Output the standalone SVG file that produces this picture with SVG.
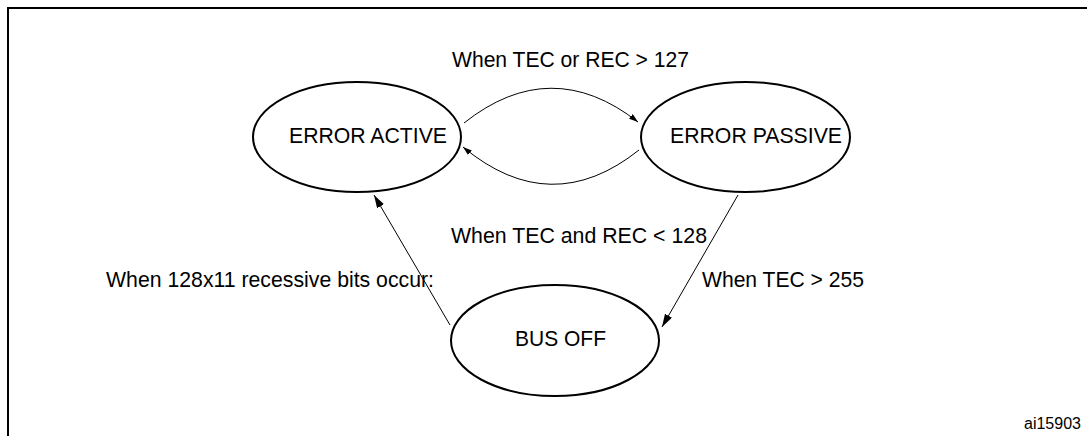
<svg xmlns="http://www.w3.org/2000/svg" width="1087" height="436" viewBox="0 0 1087 436">
  <style>
    .node { fill: #ffffff; stroke: #000000; stroke-width: 2; }
    .label { font-family: "Liberation Sans", Arial, sans-serif; font-size: 22.5px; fill: #000000; }
    .small { font-family: "Liberation Sans", Arial, sans-serif; font-size: 16px; fill: #000000; }
    .conn { fill: none; stroke: #000000; stroke-width: 1; }
    .frame { fill: none; stroke: #000000; stroke-width: 2; }
  </style>
  <defs>
    <marker id="arrowBig" markerUnits="userSpaceOnUse" markerWidth="14" markerHeight="10" refX="13" refY="4" orient="auto">
      <path d="M0,0 L13,4 L0,8 z" fill="#000000"/>
    </marker>
    <marker id="arrowSmall" markerUnits="userSpaceOnUse" markerWidth="10" markerHeight="8" refX="9" refY="3" orient="auto">
      <path d="M0,0 L9,3 L0,6 z" fill="#000000"/>
    </marker>
  </defs>
  <rect width="1087" height="436" fill="#ffffff"/>
  <path class="frame" d="M8,436 V8 H1087"/>

  <g id="connectors">
    <path class="conn" d="M464,123 Q551,54 638,122" marker-end="url(#arrowSmall)"/>
    <path class="conn" d="M639,150 Q551,220 463,147" marker-end="url(#arrowSmall)"/>
    <path class="conn" d="M450,325 L374,195" marker-end="url(#arrowBig)"/>
    <path class="conn" d="M738,195 L662,327" marker-end="url(#arrowBig)"/>
  </g>

  <g id="node-error-active">
    <ellipse class="node" cx="357" cy="137" rx="104" ry="55"/>
    <text class="label" x="289" y="143" textLength="158" lengthAdjust="spacingAndGlyphs">ERROR ACTIVE</text>
  </g>
  <g id="node-error-passive">
    <ellipse class="node" cx="745.5" cy="137" rx="104.5" ry="55"/>
    <text class="label" x="670" y="143" textLength="172" lengthAdjust="spacingAndGlyphs">ERROR PASSIVE</text>
  </g>
  <g id="node-bus-off">
    <ellipse class="node" cx="555" cy="340.5" rx="104" ry="55.5"/>
    <text class="label" x="515" y="346" textLength="91" lengthAdjust="spacingAndGlyphs">BUS OFF</text>
  </g>

  <g id="labels">
    <text class="label" x="452" y="67" textLength="237" lengthAdjust="spacingAndGlyphs">When TEC or REC &gt; 127</text>
    <text class="label" x="451" y="243" textLength="256" lengthAdjust="spacingAndGlyphs">When TEC and REC &lt; 128</text>
    <text class="label" x="106" y="287" textLength="328" lengthAdjust="spacingAndGlyphs">When 128x11 recessive bits occur:</text>
    <text class="label" x="702" y="287" textLength="162" lengthAdjust="spacingAndGlyphs">When TEC &gt; 255</text>
    <text class="small" x="1024" y="429">ai15903</text>
  </g>
</svg>
